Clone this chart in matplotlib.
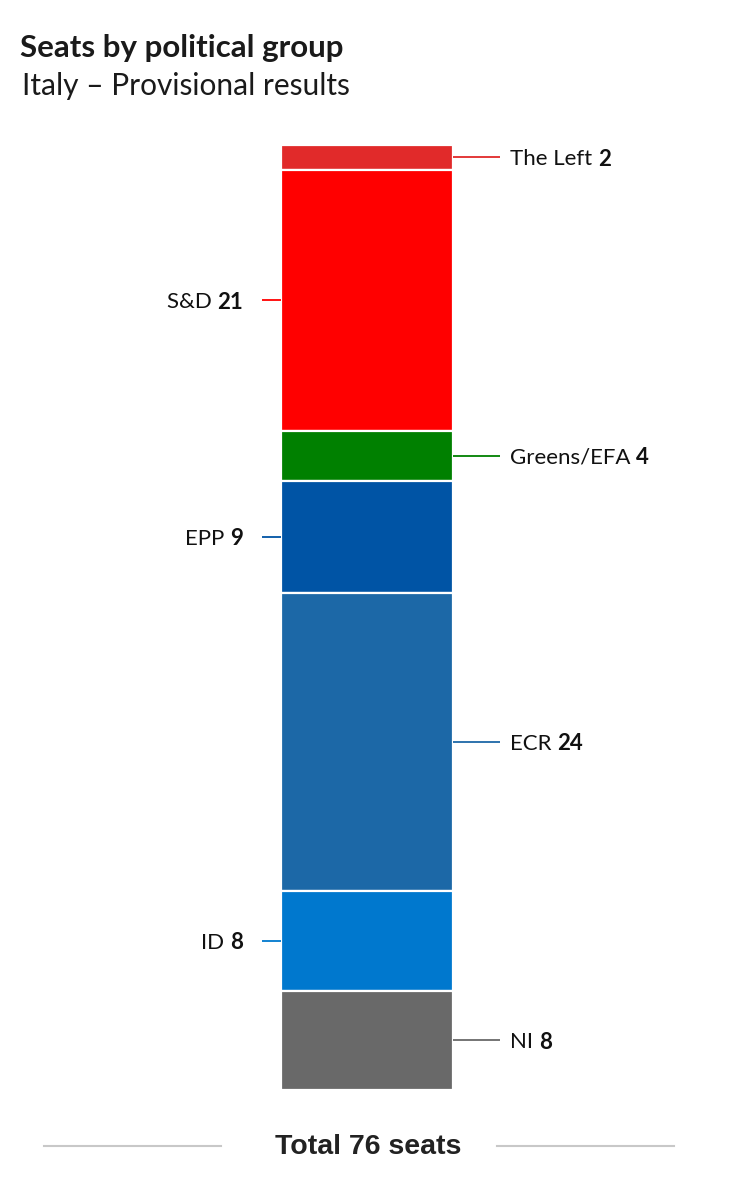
import matplotlib
matplotlib.use("Agg")
import matplotlib.pyplot as plt

groups = ["The Left", "S&D", "Greens/EFA", "EPP", "ECR", "ID", "NI"]
seats = [2, 21, 4, 9, 24, 8, 8]
colors = ["#E12A2A", "#FF0000", "#008000", "#0054A5", "#1C68A7", "#0078CE", "#696969"]
sides = ["right", "left", "right", "left", "right", "left", "right"]
title = "Seats by political group"
subtitle = "Italy – Provisional results"

lab_font = ["Lato", "DejaVu Sans"]
tot_font = ["Liberation Sans Narrow", "Liberation Sans", "DejaVu Sans"]
LFS = 16

W, H = 737, 1200
fig = plt.figure(figsize=(W / 100, H / 100), dpi=100)
fig.patch.set_facecolor("white")

bar_top, bar_bot = 145, 1090
ax = fig.add_axes([0, (H - bar_bot) / H, 1, (bar_bot - bar_top) / H])
ax.set_xlim(0, W)
total = sum(seats)
ax.set_ylim(total, 0)
ax.axis("off")

bx0, bx1 = 281, 453
fig.canvas.draw()
renderer = fig.canvas.get_renderer()
inv = ax.transData.inverted()

cum = 0
for g, s, c, side in zip(groups, seats, colors, sides):
    ax.bar((bx0 + bx1) / 2, s, width=bx1 - bx0, bottom=cum, color=c,
           edgecolor="white", linewidth=1.6)
    mid = cum + s / 2
    if side == "right":
        ax.plot([bx1, bx1 + 47], [mid, mid], color=c, lw=1.3, solid_capstyle="butt")
        t1 = ax.text(bx1 + 57, mid, g + " ", va="center_baseline", ha="left", fontsize=LFS,
                     family=lab_font, color="#111111")
        bb = t1.get_window_extent(renderer)
        x2 = inv.transform((bb.x1, 0))[0]
        ax.text(x2, mid, str(s), va="center_baseline", ha="left", fontsize=LFS,
                family=lab_font, weight="bold", color="#111111")
    else:
        ax.plot([bx0 - 19, bx0], [mid, mid], color=c, lw=1.3, solid_capstyle="butt")
        t2 = ax.text(bx0 - 38, mid, str(s), va="center_baseline", ha="right", fontsize=LFS,
                     family=lab_font, weight="bold", color="#111111")
        bb = t2.get_window_extent(renderer)
        x2 = inv.transform((bb.x0, 0))[0]
        ax.text(x2, mid, g + " ", va="center_baseline", ha="right", fontsize=LFS,
                family=lab_font, color="#111111")
    cum += s

fig.text(20 / W, 1 - 48 / H, title, fontsize=22.5, weight="bold", family=lab_font,
         color="#1a1a1a", va="center", ha="left")
fig.text(22 / W, 1 - 86 / H, subtitle, fontsize=21.5, family=lab_font,
         color="#1a1a1a", va="center", ha="left")

fig.text(368 / W, 1 - 1147 / H, f"Total {total} seats", fontsize=20.5, weight="bold",
         family=tot_font, color="#222222", va="center", ha="center")
ly = 1 - 1146 / H
fig.add_artist(plt.Line2D([44 / W, 221 / W], [ly, ly], color="#c8c8c8", lw=1.5))
fig.add_artist(plt.Line2D([497 / W, 674 / W], [ly, ly], color="#c8c8c8", lw=1.5))

fig.savefig("out.png", dpi=100, facecolor="white")
